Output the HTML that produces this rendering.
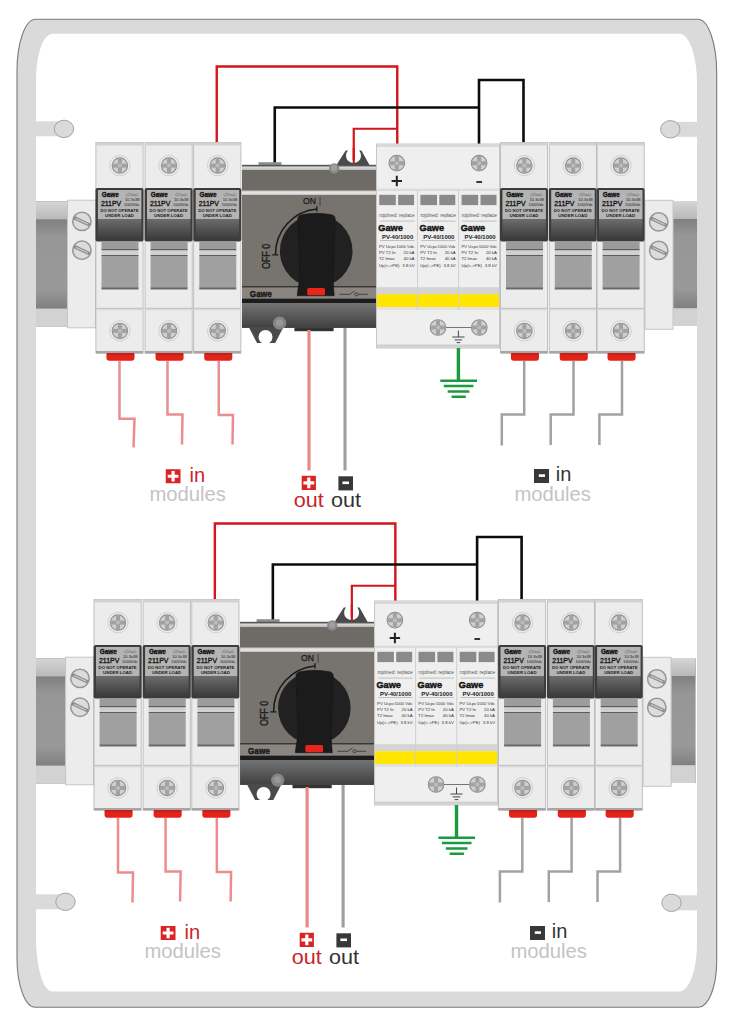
<!DOCTYPE html>
<html><head><meta charset="utf-8">
<style>html,body{margin:0;padding:0;background:#fff;overflow:hidden}svg{display:block}</style>
</head><body>
<svg width="733" height="1024" viewBox="0 0 733 1024" font-family="'Liberation Sans', sans-serif">
<defs>
  <linearGradient id="railG" x1="0" y1="0" x2="0" y2="1">
    <stop offset="0" stop-color="#686868"/><stop offset="0.28" stop-color="#969696"/><stop offset="0.7" stop-color="#999"/><stop offset="1" stop-color="#6a6a6a"/>
  </linearGradient>
  <linearGradient id="railTop" x1="0" y1="0" x2="0" y2="1">
    <stop offset="0" stop-color="#d6d6d6"/><stop offset="1" stop-color="#b8b8b8"/>
  </linearGradient>
  <linearGradient id="labG" x1="0" y1="0" x2="0" y2="1">
    <stop offset="0" stop-color="#6c6c6c"/><stop offset="1" stop-color="#3a3a3a"/>
  </linearGradient>
  <linearGradient id="swLow" x1="0" y1="0" x2="0" y2="1">
    <stop offset="0" stop-color="#737373"/><stop offset="1" stop-color="#404040"/>
  </linearGradient>
  <linearGradient id="stripA" x1="0" y1="0" x2="0" y2="1"><stop offset="0" stop-color="#e2e2e2"/><stop offset="1" stop-color="#b8b8b8"/></linearGradient>
  <linearGradient id="stripB" x1="0" y1="0" x2="0" y2="1"><stop offset="0" stop-color="#c4c4c4"/><stop offset="0.5" stop-color="#e6e6e6"/><stop offset="1" stop-color="#cfcfcf"/></linearGradient>
  <radialGradient id="scrG" cx="0.45" cy="0.4" r="0.6">
    <stop offset="0" stop-color="#cfcfcf"/><stop offset="1" stop-color="#a3a3a3"/>
  </radialGradient>
  <g id="screw">
    <circle r="10.2" fill="#ececec" stroke="#d0d0d0" stroke-width="1"/>
    <circle r="7.7" fill="#d0d0d0" stroke="#8e8e8e" stroke-width="1.1"/>
    <rect x="-2" y="-7.4" width="4" height="14.8" fill="#a2a2a2"/>
    <rect x="-7.4" y="-2" width="14.8" height="4" fill="#a2a2a2"/>
    <circle r="2" fill="#bcbcbc"/>
  </g>
  <g id="screwS">
    <circle r="7.8" fill="#d0d0d0" stroke="#8e8e8e" stroke-width="1.1"/>
    <rect x="-2" y="-7.4" width="4" height="14.8" fill="#a2a2a2"/>
    <rect x="-7.4" y="-2" width="14.8" height="4" fill="#a2a2a2"/>
    <circle r="2" fill="#bcbcbc"/>
  </g>
  <g id="slot">
    <circle r="9.2" fill="#dcdcdc" stroke="#979797" stroke-width="1.5"/>
    <path d="M-8,-3.8 L7.8,3.6" stroke="#8c8c8c" stroke-width="3.4"/>
    <path d="M-6,-2.8 L6,2.7" stroke="#c4c4c4" stroke-width="1.2"/>
  </g>
  <!-- fuse: origin at left/top (y=142), width 48 -->
  <g id="fuse">
    <rect x="0.4" y="0.4" width="47.2" height="210.6" fill="#ececec" stroke="#b2b2b2" stroke-width="0.8"/>
    <rect x="0.5" y="0.5" width="47" height="3" fill="#d2d2d2"/>
    <use href="#screw" x="24.4" y="23.6"/>
    <rect x="0" y="46" width="48" height="53.5" rx="2" fill="#3c3c3c"/>
    <rect x="2.4" y="48" width="43.5" height="29" fill="#b4b4b4"/>
    <rect x="2.4" y="77" width="43.5" height="20.5" fill="url(#labG)"/>
    <text x="6.2" y="55.2" font-size="7" font-weight="bold" fill="#111" stroke="#111" stroke-width="0.35" textLength="17" lengthAdjust="spacingAndGlyphs">Gawe</text>
    <text x="5.4" y="64" font-size="7.2" fill="#111" stroke="#111" stroke-width="0.3" textLength="20.3" lengthAdjust="spacingAndGlyphs">211PV</text>
    <path d="M30,53 Q33,50 36,52 T42,51.5 M31,54 Q35,52.5 38,53.5 T43,52.8" fill="none" stroke="#666" stroke-width="0.5"/>
    <text x="29.5" y="59" font-size="3.4" fill="#222" textLength="14.5" lengthAdjust="spacingAndGlyphs">10.3x38</text>
    <text x="28.5" y="63.8" font-size="3.4" fill="#222" textLength="15.5" lengthAdjust="spacingAndGlyphs">1000Vdc</text>
    <text x="24" y="70.2" font-size="3.8" font-weight="bold" fill="#222" text-anchor="middle" textLength="38" lengthAdjust="spacingAndGlyphs">DO NOT OPERATE</text>
    <text x="24" y="74.8" font-size="3.8" font-weight="bold" fill="#222" text-anchor="middle" textLength="29" lengthAdjust="spacingAndGlyphs">UNDER LOAD</text>
    <rect x="6" y="99.5" width="37" height="7.6" fill="#9c9c9c"/>
    <rect x="6" y="107" width="37" height="1.5" fill="#5c5c5c"/>
    <rect x="6" y="108.5" width="37" height="4.5" fill="#d0d0d0"/>
    <rect x="6" y="113" width="37" height="1.5" fill="#5c5c5c"/>
    <rect x="6" y="114.5" width="37" height="31.5" fill="#a0a0a0"/>
    <rect x="6" y="145.5" width="37" height="2" fill="#6a6a6a"/>
    <rect x="0.5" y="165.8" width="47" height="1.6" fill="#c4c4c4"/><rect x="0.5" y="167.4" width="47" height="1.2" fill="#dedede"/>
    <rect x="0.5" y="209" width="47" height="2.5" fill="#a6a6a6"/>
    <use href="#screw" x="24.4" y="188.9"/>
    <path d="M10.9,211.2 H39 V215.8 Q39,218.7 36.2,218.7 H13.7 Q10.9,218.7 10.9,215.8 Z" fill="#e3221a"/><rect x="11.5" y="211.2" width="27" height="1.3" fill="#b81812"/>
  </g>
</defs>

<g id="panel">
  <!-- wires top -->
  <g fill="none" stroke-linejoin="miter">
    <path d="M216.75,143 V66.5 H397.25 V145" stroke="#d3151c" stroke-width="2.4"/>
    <path d="M353.75,160 V128.75 H397.25" stroke="#d3151c" stroke-width="2.2"/>
    <path d="M274.75,163 V107.5 H479" stroke="#0c0c0c" stroke-width="2.6"/>
    <path d="M479,145 V80 H523.5 V145" stroke="#0c0c0c" stroke-width="2.6"/>
  </g>
  <!-- left rail + clamp -->
  <rect x="36" y="201.4" width="31.5" height="125" fill="url(#railG)"/>
  <rect x="36" y="201.4" width="31.5" height="18" fill="url(#railTop)"/>
  <rect x="36" y="308.6" width="31.5" height="17.8" fill="#d2d2d2"/>
  <rect x="67.5" y="200.2" width="28" height="127.6" fill="#ececec" stroke="#c6c6c6" stroke-width="1"/>
  <use href="#slot" x="81.9" y="221.4"/>
  <use href="#slot" x="81.9" y="250.2"/>
  <!-- right rail + clamp -->
  <rect x="673" y="201" width="24.5" height="125" fill="url(#railG)"/>
  <rect x="673" y="201" width="24.5" height="18" fill="url(#railTop)"/>
  <rect x="673" y="308.2" width="24.5" height="17.8" fill="#d2d2d2"/>
  <rect x="645" y="200.3" width="28" height="129" fill="#ececec" stroke="#c6c6c6" stroke-width="1"/>
  <use href="#slot" x="658.7" y="221.9"/>
  <use href="#slot" x="658.7" y="250.4"/>

  <!-- switch -->
  <path d="M336.1,165.5 L345.7,150.6 H347.9 A7.5,7.5 0 1 0 359.1,150.6 H361.4 L369.8,165.5 Z" fill="#4a4a4a"/>
  <path d="M353.75,148 V163" stroke="#d3151c" stroke-width="2.2"/>
  <rect x="258.5" y="162.2" width="23" height="3.8" fill="#8e8e8e"/>
  <rect x="242" y="165" width="134" height="163" fill="#77736f"/>
  <rect x="242" y="164.8" width="134" height="1.8" fill="#555"/>
  <rect x="242" y="166.5" width="134" height="3.6" fill="url(#stripA)"/>
  <rect x="242" y="170.1" width="134" height="20.4" fill="#6e6a66"/>
  <rect x="242" y="190.5" width="134" height="4.4" fill="url(#stripB)"/>
  <rect x="242" y="286" width="134" height="1.9" fill="#3a3836"/>
  <rect x="242" y="287.5" width="134" height="11.2" fill="#8a8580"/>
  <rect x="242" y="298.7" width="134" height="4.3" fill="#1c1c1c"/>
  <rect x="242" y="303" width="134" height="24.8" fill="url(#swLow)"/>
  <rect x="294.4" y="327.7" width="39.2" height="3.5" fill="#333"/>
  <circle cx="334.2" cy="168.4" r="5.2" fill="#8a8a8a"/>
  <circle cx="334" cy="168" r="3" fill="#a0a0a0"/>
  <path d="M249.1,327.7 H283.1 L275.2,343 H257 Z" fill="#4a4a4a"/>
  <circle cx="265.5" cy="337" r="7" fill="#fff"/>
  <circle cx="279.6" cy="323.2" r="6.6" fill="#858585"/>
  <circle cx="279.4" cy="322.8" r="3.5" fill="#999"/>
  <circle cx="316.2" cy="251" r="36.3" fill="#212121"/>
  <path d="M297.8,219.5 Q297.8,215 303,214.4 Q316.5,212.3 330,214.4 Q335.3,215 335.3,219.5 L333,278 Q333.6,289 334.2,295.7 H297.2 Q297.8,289 300,278 Z" fill="#1b1b1b" stroke="#151515" stroke-width="0.6"/>
  <rect x="307.2" y="288" width="17.8" height="7.3" rx="1.5" fill="#e8261c"/>
  <path d="M275.5,254.8 A45.2,45.2 0 0 1 316.9,209" fill="none" stroke="#1a1a1a" stroke-width="1.5"/>
  <path d="M272.2,254.8 H278.3 M316.9,206.3 V211.6" fill="none" stroke="#1a1a1a" stroke-width="1.3"/>
  <path d="M320,197 V205.9" stroke="#3c3c3c" stroke-width="0.9"/>
  <text x="303" y="203.8" font-size="9" fill="#1a1a1a" stroke="#1a1a1a" stroke-width="0.25" textLength="13" lengthAdjust="spacingAndGlyphs">ON</text>
  <text transform="translate(269.6,269) rotate(-90)" font-size="10.2" fill="#1a1a1a" stroke="#1a1a1a" stroke-width="0.35" textLength="25.2" lengthAdjust="spacingAndGlyphs">OFF 0</text>
  <text x="249.8" y="296.8" font-size="8.6" font-weight="bold" fill="#1a1a1a" stroke="#1a1a1a" stroke-width="0.45" textLength="22" lengthAdjust="spacingAndGlyphs">Gawe</text>
  <path d="M339.3,294.3 H349.8 L354.5,290.8 M358.1,294.3 H368" fill="none" stroke="#333" stroke-width="0.8"/>
  <circle cx="356.4" cy="294.3" r="1.6" fill="none" stroke="#333" stroke-width="0.8"/>

  <!-- SPD -->
  <rect x="376.5" y="144" width="123" height="204" fill="#efefef" stroke="#c6c6c6" stroke-width="1"/>
  <rect x="377" y="144.5" width="122" height="2.5" fill="#d8d8d8"/>
  <use href="#screwS" x="396.8" y="163.2"/>
  <use href="#screwS" x="479.1" y="163.2"/>
  <path d="M391.6,181 H402 M396.8,175.8 V186.2" stroke="#222" stroke-width="2"/>
  <path d="M476.3,182 H482" stroke="#222" stroke-width="1.8"/>
  <rect x="377" y="188.6" width="122" height="2.4" fill="#dcdcdc"/>
  <rect x="377" y="287.2" width="122" height="7" fill="#d4d4d4"/>
  <rect x="377" y="294.2" width="122" height="12.8" fill="#ffe500"/>
  <rect x="377" y="307" width="122" height="3" fill="#e2e2e2"/>
  <path d="M417.5,190 V310 M458.6,190 V310" stroke="#cfcfcf" stroke-width="1"/>
  
  <g transform="translate(0.0,0)">
    <rect x="379.2" y="194.8" width="16.6" height="10.3" fill="#8a8a8a"/>
    <rect x="398.1" y="194.8" width="16" height="10.3" fill="#8a8a8a"/>
    <text x="379.3" y="216.8" font-size="4.6" fill="#555" textLength="35.3" lengthAdjust="spacingAndGlyphs">rojolned: replace</text>
    <path d="M380,221.1 H414.5 M380,240.5 H414.5" stroke="#aaa" stroke-width="0.7"/>
    <text x="378.3" y="230.8" font-size="9.6" font-weight="bold" fill="#111" stroke="#111" stroke-width="0.45" textLength="24.5" lengthAdjust="spacingAndGlyphs">Gawe</text>
    <text x="382" y="238.7" font-size="5.3" font-weight="bold" fill="#222" textLength="31.2" lengthAdjust="spacingAndGlyphs">PV-40/1000</text>
    <g font-size="4.3" fill="#333">
      <text x="379" y="248.2">PV Ucpv</text><text x="414.5" y="248.2" text-anchor="end">1000 Vdc</text>
      <text x="379" y="254.4">PV T2 In</text><text x="414.5" y="254.4" text-anchor="end">20 kA</text>
      <text x="379" y="260.4">T2 Imax</text><text x="414.5" y="260.4" text-anchor="end">40 kA</text>
      <text x="379" y="266.6">Up(&lt;-&gt;PE)</text><text x="414.5" y="266.6" text-anchor="end">3.8 kV</text>
    </g>
  </g>
  <g transform="translate(41.2,0)">
    <rect x="379.2" y="194.8" width="16.6" height="10.3" fill="#8a8a8a"/>
    <rect x="398.1" y="194.8" width="16" height="10.3" fill="#8a8a8a"/>
    <text x="379.3" y="216.8" font-size="4.6" fill="#555" textLength="35.3" lengthAdjust="spacingAndGlyphs">rojolned: replace</text>
    <path d="M380,221.1 H414.5 M380,240.5 H414.5" stroke="#aaa" stroke-width="0.7"/>
    <text x="378.3" y="230.8" font-size="9.6" font-weight="bold" fill="#111" stroke="#111" stroke-width="0.45" textLength="24.5" lengthAdjust="spacingAndGlyphs">Gawe</text>
    <text x="382" y="238.7" font-size="5.3" font-weight="bold" fill="#222" textLength="31.2" lengthAdjust="spacingAndGlyphs">PV-40/1000</text>
    <g font-size="4.3" fill="#333">
      <text x="379" y="248.2">PV Ucpv</text><text x="414.5" y="248.2" text-anchor="end">1000 Vdc</text>
      <text x="379" y="254.4">PV T2 In</text><text x="414.5" y="254.4" text-anchor="end">20 kA</text>
      <text x="379" y="260.4">T2 Imax</text><text x="414.5" y="260.4" text-anchor="end">40 kA</text>
      <text x="379" y="266.6">Up(&lt;-&gt;PE)</text><text x="414.5" y="266.6" text-anchor="end">3.8 kV</text>
    </g>
  </g>
  <g transform="translate(82.4,0)">
    <rect x="379.2" y="194.8" width="16.6" height="10.3" fill="#8a8a8a"/>
    <rect x="398.1" y="194.8" width="16" height="10.3" fill="#8a8a8a"/>
    <text x="379.3" y="216.8" font-size="4.6" fill="#555" textLength="35.3" lengthAdjust="spacingAndGlyphs">rojolned: replace</text>
    <path d="M380,221.1 H414.5 M380,240.5 H414.5" stroke="#aaa" stroke-width="0.7"/>
    <text x="378.3" y="230.8" font-size="9.6" font-weight="bold" fill="#111" stroke="#111" stroke-width="0.45" textLength="24.5" lengthAdjust="spacingAndGlyphs">Gawe</text>
    <text x="382" y="238.7" font-size="5.3" font-weight="bold" fill="#222" textLength="31.2" lengthAdjust="spacingAndGlyphs">PV-40/1000</text>
    <g font-size="4.3" fill="#333">
      <text x="379" y="248.2">PV Ucpv</text><text x="414.5" y="248.2" text-anchor="end">1000 Vdc</text>
      <text x="379" y="254.4">PV T2 In</text><text x="414.5" y="254.4" text-anchor="end">20 kA</text>
      <text x="379" y="260.4">T2 Imax</text><text x="414.5" y="260.4" text-anchor="end">40 kA</text>
      <text x="379" y="266.6">Up(&lt;-&gt;PE)</text><text x="414.5" y="266.6" text-anchor="end">3.8 kV</text>
    </g>
  </g>
  <rect x="377" y="344.5" width="122" height="3" fill="#d0d0d0"/>
  <path d="M438,327.5 H479.3" stroke="#666" stroke-width="0.9"/>
  <use href="#screwS" x="438" y="327.5"/>
  <use href="#screwS" x="479.3" y="327.5"/>
  <path d="M458.4,330.5 V337 M452.3,337 H464.5 M454.6,339.9 H462.2 M456.6,342.6 H460.2" stroke="#333" stroke-width="0.9"/>
  <!-- ground -->
  <path d="M458.4,348 V380.7" stroke="#1b9a3e" stroke-width="3.4"/>
  <path d="M440.3,380.7 H477 M443.8,386 H473.4 M447.7,391.4 H469.4 M451.6,396.7 H465.8" stroke="#1b9a3e" stroke-width="2.5"/>
  <!-- out wires -->
  <path d="M309,330 V470.5" stroke="#e98a8a" stroke-width="3.2"/>
  <path d="M345,328 V470.5" stroke="#9e9e9e" stroke-width="3.1"/>
  <!-- in wires -->
  <g fill="none" stroke="#eb8d8f" stroke-width="2.5">
    <path d="M167.5,361 V414.5 H182.5 L182,444.5"/>
    <path d="M218.75,361 V415 H233 L232.5,444.5"/>
  </g>
  <g fill="none" stroke="#a2a2a2" stroke-width="2.5">
    <path d="M524.2,361 V414.6 H501.8 V445.5"/>
    <path d="M573.5,361 V414.5 H550.7 V445"/>
    <path d="M622,361 V414.5 H599.4 V445"/>
  </g>
  <!-- left fuses -->
  <use href="#fuse" x="95.5" y="142"/>
  <use href="#fuse" x="144.6" y="142"/>
  <use href="#fuse" x="193.3" y="142"/>
  <!-- right fuses -->
  <use href="#fuse" x="500" y="142"/>
  <use href="#fuse" x="548.8" y="142"/>
  <use href="#fuse" x="596.6" y="142"/>
</g>

<g id="labL">
  <rect x="165.75" y="469.25" width="14.75" height="14" fill="#dc2222"/>
  <path d="M173.1,470.9 V481.6 M167.75,476.25 H178.45" stroke="#fff" stroke-width="3.2"/>
  <text x="189.5" y="481.75" font-size="20" fill="#c8252a">in</text>
  <text x="149.5" y="500.75" font-size="20" fill="#c4c4c4" textLength="76.5" lengthAdjust="spacingAndGlyphs">modules</text>
</g>
<g id="labO">
  <rect x="301.7" y="475.8" width="14.2" height="14.2" fill="#dc2222"/>
  <path d="M308.8,477.5 V488.3 M303.4,482.9 H314.2" stroke="#fff" stroke-width="3.2"/>
  <rect x="338.4" y="476.3" width="14.6" height="14.1" fill="#383838"/>
  <path d="M342.4,482.8 H349" stroke="#fff" stroke-width="2.6"/>
  <text x="293.8" y="506.6" font-size="21" fill="#c8252a" textLength="30" lengthAdjust="spacingAndGlyphs">out</text>
  <text x="331" y="506.6" font-size="21" fill="#333" textLength="30" lengthAdjust="spacingAndGlyphs">out</text>
</g>
<g id="labR">
  <rect x="534" y="469" width="15" height="14" fill="#383838"/>
  <path d="M538.8,475.6 H545" stroke="#fff" stroke-width="2.6"/>
  <text x="555.7" y="481" font-size="20" fill="#333">in</text>
  <text x="514.5" y="500.5" font-size="20" fill="#c4c4c4" textLength="76.5" lengthAdjust="spacingAndGlyphs">modules</text>
</g>
<use href="#panel" transform="translate(-1.9,457)"/>
<g fill="none" stroke="#eb8d8f" stroke-width="2.5">
  <path d="M119.5,361 V418.75 H134.5 L133.5,447.5"/>
  <path d="M118,818 V872.5 H133 L132.5,902.5"/>
</g>

<use href="#labL" transform="translate(-5,456.75)"/>
<use href="#labO" transform="translate(-2,457)"/>
<use href="#labR" transform="translate(-4,457)"/>
<!-- frame -->
<path d="M35.5,19.2 H698 A18.7,54 0 0 1 716.7,73 V961 A18.4,46 0 0 1 698.3,1007.3 H35 A18,49.5 0 0 1 17,958 V71.5 A18.5,52 0 0 1 35.5,19.2 Z M52.2,33.7 H679.6 A17.4,49.6 0 0 1 697,83 V943.7 A17.5,47.7 0 0 1 679.5,991.4 H52 A16,53.7 0 0 1 36,938 V80.3 A16.2,46.6 0 0 1 52.2,33.7 Z" fill="#dadada" fill-rule="evenodd"/>
<path d="M35.5,19.2 H698 A18.7,54 0 0 1 716.7,73 V961 A18.4,46 0 0 1 698.3,1007.3 H35 A18,49.5 0 0 1 17,958 V71.5 A18.5,52 0 0 1 35.5,19.2 Z" fill="none" stroke="#7a7a7a" stroke-width="1.1"/>
<!-- bumps -->
<g fill="#dadada">
  <rect x="35" y="121.3" width="26" height="15"/>
  <rect x="672" y="121.8" width="26" height="15"/>
  <rect x="35" y="894.3" width="28" height="15"/>
  <rect x="672" y="895.3" width="26" height="15"/>
</g>
<g fill="#dadada" stroke="#9c9c9c" stroke-width="0.9">
  <ellipse cx="64" cy="128.9" rx="9.7" ry="8.7"/>
  <ellipse cx="670.3" cy="129.3" rx="9.7" ry="8.7"/>
  <ellipse cx="65.5" cy="901.8" rx="9.7" ry="8.7"/>
  <ellipse cx="671.5" cy="902.8" rx="9.7" ry="8.7"/>
</g>


</svg>
</body></html>
